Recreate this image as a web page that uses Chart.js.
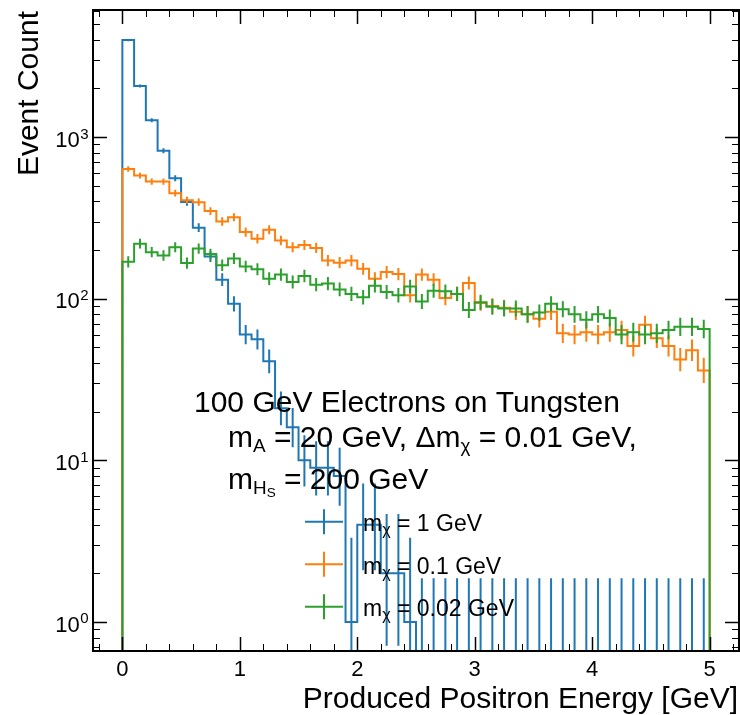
<!DOCTYPE html>
<html><head><meta charset="utf-8">
<script src="https://cdn.jsdelivr.net/npm/chart.js@4.4.1/dist/chart.umd.min.js"></script>
<style>html,body{margin:0;padding:0;background:#fff}#wrap{width:740px;height:715px}</style>
</head><body><div id="wrap"><canvas id="c" width="740" height="715"></canvas></div>
<script>
// ---- data ----
const binEdges = [0,0.1,0.2,0.3,0.4,0.5,0.6,0.7,0.8,0.9,1.0,1.1,1.2,1.3,1.4,1.5,1.6,1.7,1.8,1.9,2.0,
  2.1,2.2,2.3,2.4,2.5,2.6,2.7,2.8,2.9,3.0,3.1,3.2,3.3,3.4,3.5,3.6,3.7,3.8,3.9,4.0,
  4.1,4.2,4.3,4.4,4.5,4.6,4.7,4.8,4.9,5.0];
const countsMx1 = [3981,2066,1268,822,556,396,275,182,131,93,60,56,41,21,16,10,9,9,8,1,4,4,2,2,1,
  0,0,0,0,0,0,0,0,0,0,0,0,0,0,0,0,0,0,0,0,0,0,0,0,0];
const countsMx01 = [634,577,530,530,449,406,395,348,300,319,258,235,267,229,208,215,206,172,167,172,
  153,133,146,142,105,141,131,101,107,125,94,90,88,83,80,75,83,61,60,62,60,62,64,51,69,57,51,42,48,36];
const countsMx002 = [169,219,194,185,208,166,204,189,161,177,158,152,133,141,127,138,122,124,114,107,
  102,120,110,105,119,96,112,111,107,85,95,89,87,87,80,82,93,86,80,74,80,76,60,62,60,61,64,67,67,65];
const seriesMasses = ['1 GeV','0.1 GeV','0.02 GeV'];
const seriesColors = ['#1f77b4','#ff7f0e','#2ca02c'];
const xTickLabels = ['0','1','2','3','4','5'];
const yTickExponents = ['0','1','2','3'];

const FONT = '"Liberation Sans", Arial, Helvetica, sans-serif';
const X_MIN = -0.25, X_MAX = 5.25, Y_MIN = 0.6615, Y_MAX = 6104;
const FLOOR = 1e-3;

function stepPoints(counts){
  const pts = [{x: binEdges[0], y: FLOOR}];
  counts.forEach((v, i) => {
    const yv = v > 0 ? v : FLOOR;
    pts.push({x: binEdges[i], y: yv}, {x: binEdges[i+1], y: yv});
  });
  pts.push({x: binEdges[binEdges.length-1], y: FLOOR});
  return pts;
}
// Poisson (Gehrels) 1-sigma interval of the counts
function poissonLo(n){ if (n <= 0) return 0; return n*Math.pow(1 - 1/(9*n) - 1/(3*Math.sqrt(n)), 3); }
function poissonHi(n){ return n + Math.sqrt(n + 0.75) + 1; }
function errPoints(counts){
  const pts = [];
  counts.forEach((v, i) => {
    const c = (binEdges[i] + binEdges[i+1]) / 2;
    const lo = poissonLo(v);
    pts.push({x: c, y: lo > 0 ? lo : FLOOR}, {x: c, y: poissonHi(v)}, {x: c, y: null});
  });
  return pts;
}

const allCounts = [countsMx1, countsMx01, countsMx002];
const datasets = [];
allCounts.forEach((cnt, i) => {
  datasets.push({data: stepPoints(cnt), borderColor: seriesColors[i], borderWidth: 2,
    pointRadius: 0, fill: false, tension: 0, order: 2 - i, borderJoinStyle: 'miter'});
  datasets.push({data: errPoints(cnt), borderColor: seriesColors[i], borderWidth: 2,
    pointRadius: 0, fill: false, tension: 0, spanGaps: false, order: 2 - i});
});

function drawRich(ctx, x, y, parts, base, r1){
  r1 = r1 || 0.63;
  let cx = x;
  for (const p of parts){
    const lvl = p[1] || 0;
    const size = lvl === 0 ? base : (lvl === 1 ? base*r1 : base*0.45);
    const dy = lvl === 0 ? 0 : (lvl === 1 ? base*0.18 : base*0.28);
    ctx.font = size + 'px ' + FONT;
    ctx.fillText(p[0], cx, y + dy);
    cx += ctx.measureText(p[0]).width;
  }
  return cx;
}
function seg(ctx, x1, y1, x2, y2){ ctx.beginPath(); ctx.moveTo(x1, y1); ctx.lineTo(x2, y2); ctx.stroke(); }

const decor = {
  id: 'decor',
  afterDraw(chart){
    const {ctx, chartArea: a} = chart;
    const xs = chart.scales.x, ys = chart.scales.y;
    ctx.save();
    ctx.strokeStyle = '#000'; ctx.fillStyle = '#000';
    // x ticks
    for (let k = -1; k <= 26; k++){
      const v = k * 0.2;
      if (v < X_MIN || v > X_MAX) continue;
      const major = k % 5 === 0;
      const px = Math.round(xs.getPixelForValue(v)) + 0.5;
      const L = major ? 14 : 7;
      ctx.lineWidth = major ? 1.5 : 1;
      seg(ctx, px, a.bottom, px, a.bottom - L);
      seg(ctx, px, a.top, px, a.top + L);
    }
    // y ticks
    for (let e = -1; e <= 3; e++){
      for (let m = 1; m <= 9; m++){
        const v = m * Math.pow(10, e);
        if (v < Y_MIN || v > Y_MAX) continue;
        const major = m === 1;
        const py = Math.round(ys.getPixelForValue(v)) + 0.5;
        const L = major ? 14 : 7;
        ctx.lineWidth = major ? 1.5 : 1;
        seg(ctx, a.left, py, a.left + L, py);
        seg(ctx, a.right, py, a.right - L, py);
      }
    }
    // frame
    ctx.lineWidth = 2;
    ctx.strokeRect(a.left, a.top, a.right - a.left, a.bottom - a.top);

    // x tick labels
    ctx.textBaseline = 'alphabetic';
    ctx.textAlign = 'center';
    ctx.font = '22px ' + FONT;
    xTickLabels.forEach(t => {
      ctx.fillText(t, xs.getPixelForValue(Number(t)), a.bottom + 25);
    });
    // y tick labels 10^n
    ctx.textAlign = 'left';
    yTickExponents.forEach(e => {
      const py = ys.getPixelForValue(Math.pow(10, Number(e)));
      ctx.font = '22px ' + FONT; const w1 = ctx.measureText('10').width;
      ctx.font = '15px ' + FONT; const w2 = ctx.measureText(e).width;
      const x0 = a.left - 5 - w1 - w2;
      ctx.font = '22px ' + FONT; ctx.fillText('10', x0, py + 9.7);
      ctx.font = '15px ' + FONT; ctx.fillText(e, x0 + w1 + 0.5, py + 1.5);
    });
    // axis titles
    ctx.font = '30px ' + FONT;
    ctx.textAlign = 'right';
    ctx.fillText('Produced Positron Energy [GeV]', 738, 708.3);
    ctx.save();
    ctx.translate(37.5, 11);
    ctx.rotate(-Math.PI / 2);
    ctx.textAlign = 'right';
    ctx.fillText('Event Count', 0, 0);
    ctx.restore();

    // annotation
    ctx.textAlign = 'left';
    drawRich(ctx, 194, 412.3, [['100 GeV Electrons on Tungsten', 0]], 30);
    drawRich(ctx, 228, 446.7, [['m', 0], ['A', 1], [' = 20 GeV, \u0394m', 0], ['\u03c7', 1], [' = 0.01 GeV,', 0]], 30);
    drawRich(ctx, 228, 489, [['m', 0], ['H', 1], ['S', 2], [' = 200 GeV', 0]], 30);

    // legend
    const rows = [521.7, 564.3, 606.7];
    seriesMasses.forEach((lab, i) => {
      const ry = rows[i];
      ctx.strokeStyle = seriesColors[i]; ctx.lineWidth = 2;
      seg(ctx, 305, ry, 343, ry);
      seg(ctx, 324, ry - 12.5, 324, ry + 12.5);
      ctx.fillStyle = '#000';
      drawRich(ctx, 363, ry + 9.5, [['m', 0], ['\u03c7', 1], [' = ' + lab, 0]], 23, 0.7);
    });
    ctx.restore();
  }
};

new Chart(document.getElementById('c'), {
  type: 'line',
  data: {datasets},
  options: {
    responsive: false,
    animation: false,
    events: [],
    layout: {padding: {left: 93, right: 1, top: 10, bottom: 64}},
    plugins: {legend: {display: false}, tooltip: {enabled: false}},
    scales: {
      x: {type: 'linear', min: X_MIN, max: X_MAX, display: false},
      y: {type: 'logarithmic', min: Y_MIN, max: Y_MAX, display: false}
    }
  },
  plugins: [decor]
});
</script>
</body></html>
